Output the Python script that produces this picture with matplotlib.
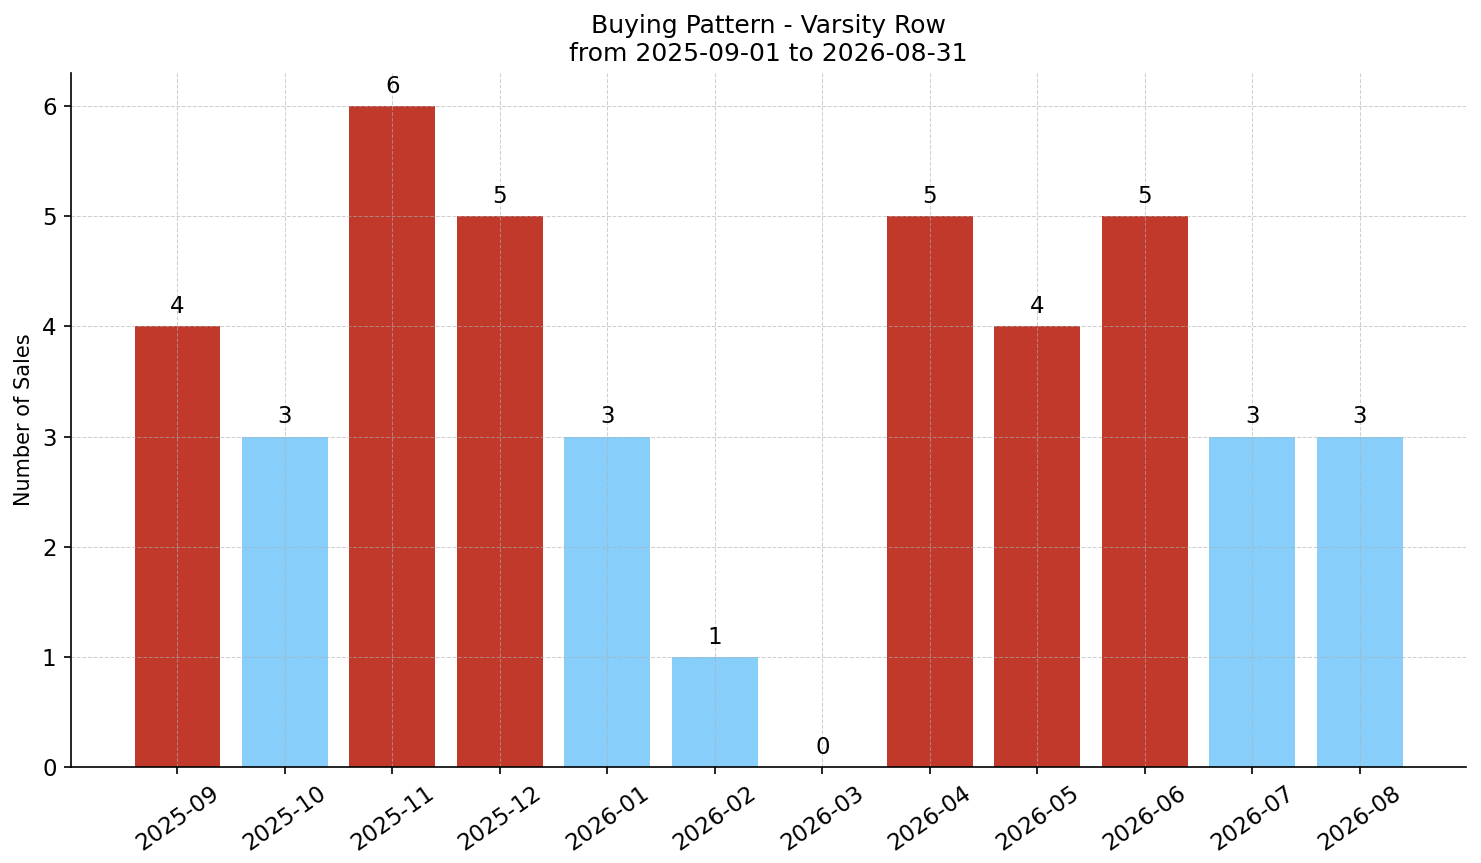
import matplotlib
matplotlib.use('Agg')
import matplotlib.pyplot as plt
import numpy as np

months = ['2025-09', '2025-10', '2025-11', '2025-12', '2026-01', '2026-02',
          '2026-03', '2026-04', '2026-05', '2026-06', '2026-07', '2026-08']
sales = [4, 3, 6, 5, 3, 1, 0, 5, 4, 5, 3, 3]

# above-average months in red, the rest light blue
avg = np.mean(sales)
colors = ['#c0392b' if s > avg else '#87cefa' for s in sales]

fig, ax = plt.subplots(figsize=(1481 / 150, 863 / 150), dpi=150)
bars = ax.bar(months, sales, color=colors, width=0.8)
for b, s in zip(bars, sales):
  ax.annotate(str(s), (b.get_x() + b.get_width() / 2, b.get_height()),
              xytext=(0, 4), textcoords='offset points', ha='center', va='bottom', fontsize=11)

ax.set_title('Buying Pattern - Varsity Row\nfrom 2025-09-01 to 2026-08-31', fontsize=12)
ax.set_ylabel('Number of Sales')
ax.grid(True, linestyle='--', linewidth=0.5, color='#b0b0b0', alpha=0.6)
ax.spines['top'].set_visible(False)
ax.spines['right'].set_visible(False)
plt.setp(ax.get_xticklabels(), rotation=35)
ax.tick_params(labelsize=11)

fig.subplots_adjust(left=0.048, right=0.990, top=0.9154, bottom=0.1112)
fig.savefig('out.png', dpi=150)
